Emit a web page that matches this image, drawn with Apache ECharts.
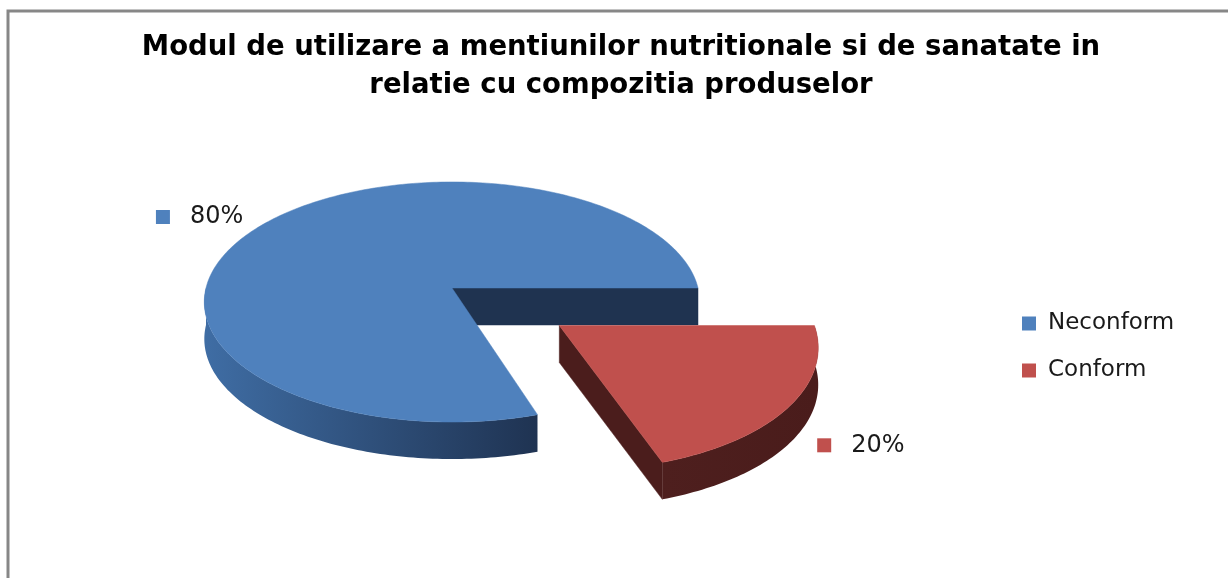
<!DOCTYPE html>
<html>
<head>
<meta charset="utf-8">
<script src="https://cdn.jsdelivr.net/npm/echarts@6/dist/echarts.min.js"></script>
<style>
html,body{margin:0;padding:0;background:#fff;}
#chart{width:1228px;height:578px;}
</style>
</head>
<body>
<div id="chart"></div>
<script>
// ---- data ----
const categories = ['Neconform', 'Conform'];
const values = [80, 20];
const valueLabels = ['80%', '20%'];
const titleText = 'Modul de utilizare a mentiunilor nutritionale si de sanatate in\nrelatie cu compozitia produselor';

// ---- styles (not data) ----
const topColors = ['#4F81BD', '#C0504D'];
const sideColors = [['#3F6DA4', '#1F3352'], ['#4E1F1E', '#4A1C1B']];
const wallColors = ['#1F3350', '#4B1D1C'];
const explode = [0, 0.52];
const G = { cx: 452, cy: 288, rx: 246, ry: 118.4, B: -0.1166, h: 37 };

const total = values.reduce((a, b) => a + b, 0);
const DEG = Math.PI / 180;

function proj(u, v, z) {
  const d = 1 + G.B * v;
  return [G.cx + G.rx * u / d, G.cy + G.ry * v / d + z];
}
function sliceAngles(i) {
  let before = 0;
  for (let k = 0; k < i; k++) before += values[k];
  const a0 = -before / total * 360;
  const a1 = a0 - values[i] / total * 360;
  return [a1, a0];
}
function arcPts(ox, oy, from, to, z) {
  const pts = [];
  const n = Math.max(2, Math.ceil(Math.abs(to - from)));
  for (let s = 0; s <= n; s++) {
    const a = (from + (to - from) * s / n) * DEG;
    pts.push(proj(ox + Math.cos(a), oy + Math.sin(a), z));
  }
  return pts;
}

function renderSlice(i, api) {
  const [a1, a0] = sliceAngles(i);
  const mid = (a0 + a1) / 2 * DEG;
  const e = explode[i];
  const ox = e * Math.cos(mid), oy = e * Math.sin(mid);
  const children = [];
  const h = G.h;
  // radial walls
  const walls = [[a0, Math.cos(a0 * DEG)], [a1, -Math.cos(a1 * DEG)]];
  walls.forEach(([a, nv]) => {
    if (nv > 0) {
      const r = a * DEG;
      const pts = [proj(ox, oy, 0), proj(ox + Math.cos(r), oy + Math.sin(r), 0),
                   proj(ox + Math.cos(r), oy + Math.sin(r), h), proj(ox, oy, h)];
      children.push({ type: 'polygon', shape: { points: pts }, style: { fill: wallColors[i], stroke: wallColors[i], lineWidth: 0.5 } });
    }
  });
  // outer curved side: portions facing the viewer
  for (let k = -3; k <= 2; k++) {
    const lo = Math.max(a1, k * 360), hi = Math.min(a0, k * 360 + 180);
    if (hi - lo > 0.01) {
      const topArc = arcPts(ox, oy, lo, hi, 0);
      const botArc = arcPts(ox, oy, hi, lo, h);
      children.push({
        type: 'polygon', shape: { points: topArc.concat(botArc) },
        style: {
          fill: new echarts.graphic.LinearGradient(0, 0, 1, 0, [
            { offset: 0, color: sideColors[i][0] }, { offset: 1, color: sideColors[i][1] }]),
          stroke: null
        }
      });
    }
  }
  // top surface
  const topPts = [proj(ox, oy, 0)].concat(arcPts(ox, oy, a1, a0, 0));
  children.push({ type: 'polygon', shape: { points: topPts }, style: { fill: topColors[i], stroke: topColors[i], lineWidth: 0.5 } });
  // label
  const lr = lv0(mid, ox, oy);
  const lu = ox + lr * Math.cos(mid), lv = oy + lr * Math.sin(mid);
  const lp = proj(lu, lv, lv > 0 ? h * 0.8 : 0);
  children.push({
    type: 'text',
    style: {
      text: '{m|}{t|' + valueLabels[i] + '}',
      x: lp[0], y: lp[1] + (lv > 0 ? 0 : 2),
      align: lu < 0 ? 'right' : 'left',
      verticalAlign: 'middle',
      rich: {
        m: { width: 14, height: 14, backgroundColor: topColors[i] },
        t: { fontSize: 24, fontFamily: 'DejaVu Sans', fill: '#1a1a1a', padding: [0, 0, 0, 20] }
      }
    }
  });
  return { type: 'group', children };
}
function lv0(mid, ox, oy) {
  // label distance from slice centre (in radius units)
  return Math.sin(mid) > 0 ? 1.11 : 1.13;
}

const chart = echarts.init(document.getElementById('chart'), null, { renderer: 'canvas' });
chart.setOption({
  backgroundColor: '#ffffff',
  animation: false,
  title: {
    text: titleText,
    left: 621, top: 29, textAlign: 'center', padding: 0,
    textStyle: { fontFamily: 'DejaVu Sans', fontWeight: 'bold', fontSize: 27.5, lineHeight: 38, color: '#000' }
  },
  legend: {
    orient: 'vertical', left: 1022, top: 311, padding: 0,
    icon: 'rect', itemWidth: 14, itemHeight: 14, itemGap: 22,
    data: categories,
    textStyle: { fontFamily: 'DejaVu Sans', fontSize: 23, color: '#1a1a1a', lineHeight: 25, padding: [0, 0, 0, 7] }
  },
  graphic: [{
    type: 'rect', shape: { x: 8, y: 11, width: 1240, height: 600 },
    style: { fill: 'none', stroke: '#878787', lineWidth: 3 }, z: 100
  }],
  series: categories.map((name, i) => ({
    type: 'custom', name: name, coordinateSystem: 'none',
    itemStyle: { color: topColors[i] },
    data: [values[i]],
    renderItem: (params, api) => renderSlice(i, api),
    z: 2 + i
  }))
});
</script>
</body>
</html>
